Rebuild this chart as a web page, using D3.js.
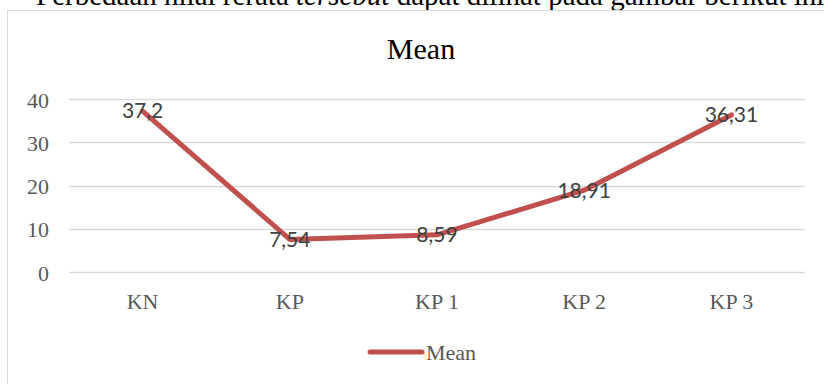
<!DOCTYPE html>
<html>
<head>
<meta charset="utf-8">
<script src="https://cdn.jsdelivr.net/npm/d3@7"></script>
<style>
  html, body { margin: 0; padding: 0; background: #fff; overflow: hidden; }
  svg { display: block; }
</style>
</head>
<body>
<svg id="chart" width="824" height="384"></svg>
<script>
// Group means
const categories = ["KN", "KP", "KP 1", "KP 2", "KP 3"];
const meanValues = [37.2, 7.54, 8.59, 18.91, 36.31];
const valueLabels = ["37,2", "7,54", "8,59", "18,91", "36,31"];
const yTicks = [0, 10, 20, 30, 40];
const seriesName = "Mean";

const svg = d3.select("#chart");
const W = 824, H = 384;
const serif = "'Liberation Serif', 'Times New Roman', serif";
const sans = "Lato, 'Open Sans', sans-serif";
const lineColor = "#c0504d";

// Running paragraph text above the figure
const para = svg.append("text")
  .attr("x", 36).attr("y", 5)
  .attr("font-family", serif).attr("font-size", 29)
  .attr("fill", "#000");
para.append("tspan").text("Perbedaan nilai rerata ");
para.append("tspan").attr("font-style", "italic").text("tersebut");
para.append("tspan").text(" dapat dilihat pada gambar berikut ini");

// Chart frame
svg.append("rect")
  .attr("x", 7.5).attr("y", 10.5)
  .attr("width", W).attr("height", H)
  .attr("fill", "#fff").attr("stroke", "#d9d9d9").attr("stroke-width", 1);

// Title
svg.append("text")
  .attr("x", 421).attr("y", 59)
  .attr("text-anchor", "middle")
  .attr("font-family", serif).attr("font-size", 30)
  .attr("fill", "#000")
  .text("Mean");

const plot = { left: 69, right: 805, top: 99, bottom: 272 };

const x = d3.scaleBand()
  .domain(categories)
  .range([plot.left, plot.right]);

const y = d3.scaleLinear()
  .domain([0, 40])
  .range([plot.bottom, plot.top]);

// Gridlines
svg.append("g")
  .selectAll("line")
  .data(yTicks)
  .join("line")
  .attr("x1", plot.left).attr("x2", plot.right)
  .attr("y1", d => Math.round(y(d)) + 0.5)
  .attr("y2", d => Math.round(y(d)) + 0.5)
  .attr("stroke", "#d9d9d9").attr("stroke-width", 1.5);

// Y axis labels
const yAxis = svg.append("g")
  .attr("transform", `translate(49,1)`)
  .call(d3.axisLeft(y).tickValues(yTicks).tickSize(0).tickPadding(0));
yAxis.select(".domain").remove();
yAxis.selectAll("text")
  .attr("font-family", serif).attr("font-size", 22)
  .attr("fill", "#595959");

// X axis labels
const xAxis = svg.append("g")
  .attr("transform", `translate(0,${plot.bottom + 21})`)
  .call(d3.axisBottom(x).tickSize(0).tickPadding(0));
xAxis.select(".domain").remove();
xAxis.selectAll("text")
  .attr("font-family", serif).attr("font-size", 22)
  .attr("fill", "#595959");

// Series line
const cx = c => x(c) + x.bandwidth() / 2;
const line = d3.line()
  .x((d, i) => cx(categories[i]))
  .y(d => y(d));

svg.append("path")
  .datum(meanValues)
  .attr("d", line)
  .attr("fill", "none")
  .attr("stroke", lineColor)
  .attr("stroke-width", 5)
  .attr("stroke-linejoin", "round")
  .attr("stroke-linecap", "round");

// Value labels centred on the points
svg.append("g")
  .selectAll("text")
  .data(meanValues)
  .join("text")
  .attr("x", (d, i) => cx(categories[i]))
  .attr("y", d => y(d))
  .attr("dy", "0.35em")
  .attr("text-anchor", "middle")
  .attr("font-family", sans).attr("font-size", 21)
  .attr("fill", "#404040")
  .text((d, i) => valueLabels[i]);

// Legend
const legend = svg.append("g").attr("transform", "translate(0,352)");
legend.append("line")
  .attr("x1", 370).attr("x2", 422)
  .attr("y1", 0).attr("y2", 0)
  .attr("stroke", lineColor).attr("stroke-width", 5)
  .attr("stroke-linecap", "round");
legend.append("text")
  .attr("x", 426).attr("y", 0).attr("dy", "0.35em")
  .attr("font-family", serif).attr("font-size", 22)
  .attr("fill", "#595959")
  .text(seriesName);
</script>
</body>
</html>
